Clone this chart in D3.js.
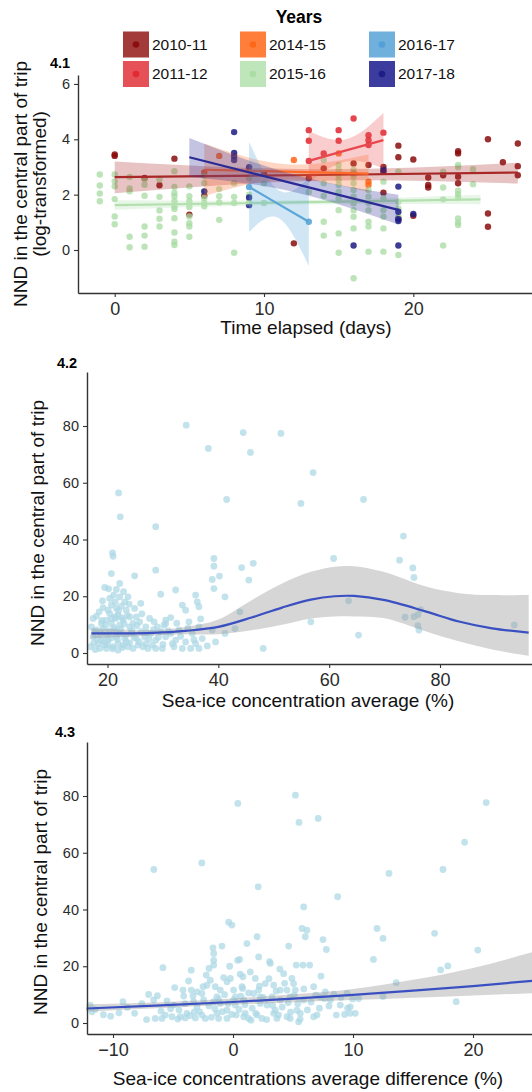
<!DOCTYPE html>
<html><head><meta charset="utf-8">
<script src="https://cdn.jsdelivr.net/npm/d3@7"></script>
<style>
html,body{margin:0;padding:0;background:#fff;}
svg text{font-family:"Liberation Sans",Arial,sans-serif;}
</style></head>
<body>
<svg id="chart" width="532" height="1092"></svg>
<script>
// ---------------- DATA ----------------
const years = ["2010-11","2011-12","2014-15","2015-16","2016-17","2017-18"];
const pointColors = ["#8B0A0A","#E0262E","#FF6414","#A6DBA0","#4F9FD6","#1B1B84"];
const lineColors  = ["#A82828","#E8474E","#FF6A2A","#B3E0AE","#5AA6D8","#2A2A96"];
const keyColors   = ["#A33B3B","#E65157","#FF7F3A","#BFE5BA","#6FB0DD","#3B3C9E"];

const pts_2010_11 = [[0,3.45],[0,3.4],[2,2.6],[3,2.34],[4,3.3],[5,1.28],[6,1.96],[10,2.75],[12,0.24],[13,2.59],[14,2.95],[16,3.13],[16,2.77],[17,3.07],[18,3.0],[18,2.83],[18,2.07],[19,3.77],[19,3.35],[19,1.14],[20,3.27],[20,1.24],[21,2.62],[21,2.35],[21,2.26],[22,2.7],[23,3.57],[23,3.49],[23,2.65],[23,2.41],[25,4.0],[25,1.32],[25,0.84],[26,3.17],[27,3.85],[27,3.03],[27,2.7]];
const pts_2011_12 = [[13,4.33],[13,3.95],[13,3.22],[14,3.49],[15,4.33],[15,3.95],[16,4.75],[17,4.15],[17,3.97],[17,3.79],[18,4.24]];
const pts_2014_15 = [[6,2.8],[7,3.4],[12,3.25],[15,3.49],[17,2.47],[17,2.35]];
const pts_2015_16 = [[-1,2.73],[-1,2.33],[-1,2.04],[-1,1.76],
 [0,2.73],[0,2.48],[0,2.3],[0,1.84],[0,1.21],[0,0.93],
 [1,2.64],[1,2.22],[1,2.12],[1,0.48],[1,0.1],
 [2,2.55],[2,2.36],[2,1.96],[2,0.85],[2,0.52],[2,0.12],
 [3,2.55],[3,1.92],[3,1.43],[3,1.13],[3,0.85],
 [4,2.85],[4,2.28],[4,2.06],[4,1.94],[4,1.76],[4,1.58],[4,1.48],[4,1.15],[4,0.63],[4,0.3],[4,0.18],
 [5,2.3],[5,1.94],[5,1.76],[5,1.55],[5,1.21],[5,0.97],[5,0.85],[5,0.48],
 [6,2.67],[6,2.42],[6,2.12],[6,1.88],[6,1.7],[6,1.58],
 [7,2.2],[7,1.94],[7,1.72],[7,1.09],
 [8,2.41],[8,1.92],[8,1.7],[8,-0.1],
 [9,2.59],[9,2.0],[9,1.74],
 [10,2.4],[10,1.7],
 [13,2.1],
 [14,3.25],[14,2.41],[14,1.95],[14,1.02],[14,0.52],
 [15,3.07],[15,2.89],[15,2.71],[15,2.53],[15,2.35],[15,2.1],[15,1.87],[15,1.44],[15,0.6],[15,-0.1],
 [16,2.89],[16,2.65],[16,2.41],[16,2.17],[16,1.93],[16,1.69],[16,1.44],[16,1.2],[16,0.78],[16,-1.02],
 [17,2.17],[17,1.93],[17,1.69],[17,1.44],[17,1.02],[17,0.85],[17,-0.06],
 [18,2.47],[18,1.87],[18,1.44],[18,1.2],[18,0.78],[18,-0.06],
 [19,2.83],[19,1.74],[19,1.5],[19,1.2],[19,-0.18],
 [22,2.83],[22,2.26],[22,1.83],[22,0.16],
 [23,3.07],[23,2.99],[23,2.14],[23,2.02],[23,1.9],[23,1.14],[23,0.99],[23,0.9],
 [24,2.92],[24,2.38]];
const pts_2016_17 = [[9,2.28],[13,1.02]];
const pts_2017_18 = [[6,2.12],[8,4.26],[8,3.51],[8,3.39],[8,3.25],[9,2.99],[9,1.9],[9,1.62],[16,0.16],[18,2.89],[19,2.29],[19,1.38],[19,1.11],[19,1.05],[19,0.16],[20,1.3]];

// fitted line + confidence band: [day, fit, lower, upper]
const fit_2010_11 = [[0,2.63,2.05,3.2],[13.5,2.71,2.5,2.92],[27,2.8,2.4,3.15]];
const fit_2011_12 = [[13,3.22,2.45,4.3],[15.5,3.6,3.2,4.0],[18,3.97,2.95,4.95]];
const fit_2014_15 = [[6,2.9,1.95,3.85],[11.5,2.83,2.55,3.1],[17,2.76,2.1,3.45]];
const fit_2015_16 = [[0,1.62,1.45,1.8],[12,1.72,1.64,1.8],[24.5,1.83,1.65,2.0]];
const fit_2016_17 = [[9,2.28,0.65,3.9],[11,1.65,1.15,2.15],[13,1.02,-0.58,2.6]];
const fit_2017_18 = [[5,3.35,2.65,4.05],[12,2.4,2.1,2.72],[19,1.45,0.92,2.0]];

// Panel 4.2: sea-ice concentration average (%) vs NND
const iceAvgX = [20.9,21.0,20.7,24.9,28.7,19.5,22.2,21.6,22.9,21.1,20.4,19.1,20.7,21.6,22.5,18.5,20.4,21.9,23.4,24.9,25.2,17.1,18.0,19.2,20.7,22.2,24.0,25.8,27.6,29.0,30.5,17.4,18.9,19.8,21.6,23.4,25.2,26.9,28.7,30.5,32.3,16.9,18.6,21.0,22.8,24.6,26.4,28.1,29.9,31.7,33.5,35.0,36.5,32.3,29.6,33.5,35.9,36.2,36.5,34.1,31.4,30.2,32.9,35.3,37.1,38.9,39.5,41.2,39.2,39.2,40.2,38.9,39.2,41.2,44.2,46.3,45.5,43.9,43.0,48.1,17.7,18.3,19.5,20.1,21.3,21.9,22.2,22.8,19.8,21.3,24.0,24.3,26.1,26.7,27.8,29.6,31.4,32.0,27.3,23.7,18.9,20.1,23.1,23.7,30.5,19.8,21.9,25.5,28.7,34.1,35.9,34.7,36.5,22.2,20.7,17.4,24.6,26.9,28.4,23.1,
 17.5,17.8,18.2,18.7,19.0,19.4,19.6,20.0,20.3,20.6,20.9,21.2,21.5,21.8,22.0,22.4,22.7,23.0,23.3,23.6,24.0,24.4,24.8,25.3,25.7,26.2,27.0,27.5,28.3,29.2,30.0,31.0,32.5,33.2,34.5,35.6,36.8,38.0,20.2,21.4,22.6,19.2,18.0,23.9,26.0,
 34.2,38.2,44.5,45.8,51.3,57.1,22.0,22.3,41.5,54.9,66.2,28.7,73.4,60.8,72.7,75.1,75.3,63.5,73.7,75.3,76.0,76.5,76.0,76.2,56.7,65.3,93.4];
const iceAvgY = [35.3,34.1,28.0,27.2,29.2,23.1,24.5,22.4,21.6,20.4,19.2,18.4,16.9,15.7,16.5,14.5,13.9,13.3,15.1,15.7,12.7,9.2,8.1,8.6,10.4,9.8,9.2,11.0,12.2,9.2,10.4,5.7,4.5,6.3,5.7,3.9,5.1,3.3,4.5,5.7,4.5,2.2,1.6,2.2,2.8,1.6,2.2,2.8,1.6,3.3,1.6,1.6,1.6,22.2,20.7,16.9,20.4,18.0,16.3,15.1,12.5,9.8,8.1,6.9,5.1,8.1,3.9,6.9,33.3,30.6,27.1,25.9,22.7,19.8,30.1,31.6,25.7,14.5,8.6,1.6,7.5,3.3,2.8,4.5,8.1,3.3,6.9,11.6,11.6,12.7,12.7,6.9,7.5,5.7,6.9,7.5,6.9,2.2,1.6,2.2,10.4,15.1,18.0,19.8,11.6,1.6,1.0,2.8,1.6,3.9,3.3,11.0,9.2,19.8,12.2,12.2,10.4,9.2,11.0,5.1,
 3.5,1.2,5.0,6.9,11.5,4.0,9.8,3.0,7.8,5.2,1.5,8.9,12.2,4.8,14.8,8.4,1.9,10.3,6.1,13.2,3.6,8.0,5.5,9.6,4.0,13.8,7.2,4.9,8.2,5.6,3.0,7.8,10.5,5.9,8.8,4.7,12.0,2.5,22.6,18.0,12.5,16.0,13.0,17.2,17.5,
 80.3,72.1,77.7,70.7,77.4,63.6,56.4,48.0,54.1,52.7,54.1,44.5,41.2,33.3,32.7,30.0,26.6,18.4,12.6,12.8,13.5,15.3,9.6,8.1,11.0,6.3,9.9];
// loess fit: x, fit, lower, upper
const smoothAvgX  = [17.1,22,28.2,34.1,40,46,51.5,56.7,61,64.5,69.8,77.5,83.4,89.4,96];
const smoothAvgY  = [6.9,6.9,7.1,7.8,9.2,12.5,16.0,18.8,20.0,20.1,18.7,14.6,11.1,8.7,7.2];
const smoothAvgLo = [5.1,5.6,6.2,6.6,6.6,8.0,10.0,12.2,12.9,12.9,12.3,7.6,4.1,1.2,-1.0];
const smoothAvgHi = [8.6,8.3,8.1,9.2,11.8,18.6,24.5,28.6,30.4,30.6,28.6,23.4,21.1,20.4,20.4];

// Panel 4.3: sea-ice concentrations average difference (%) vs NND
const iceDiffX = [-11.9,-11.75,-10.2,-9.17,-8.2,-7.03,-6.48,-5.84,-5.92,-4.86,-5.09,-4.17,-4.11,-3.98,-3.48,-3.48,-3.34,-3.28,-3.23,-3.14,-2.59,-2.31,-2.23,-2.17,-1.89,-1.67,-1.61,-1.61,-1.61,-1.48,-1.34,-1.34,-1.2,-1.06,-0.92,-0.78,-0.5,-0.5,-0.36,-0.28,-0.22,-0.09,0.05,0.19,0.27,0.39,0.55,0.66,0.75,0.83,1.02,1.16,1.3,1.44,1.5,1.86,2.0,2.14,2.14,2.27,2.41,2.69,3.05,3.11,3.25,3.39,3.52,3.66,3.94,4.22,4.5,4.64,4.77,4.91,5.05,5.19,5.27,5.33,5.47,5.75,5.83,5.89,6.02,6.16,6.39,6.72,7.0,7.33,7.5,7.69,7.78,8.11,8.61,8.72,9.5,9.77,10.19,10.47,12.0,
 -6.61,-4.95,-3.0,-1.06,0.89,2.83,4.77,5.89,7.27,8.94,-3.84,-2.59,-0.5,0.89,2.0,3.39,4.5,5.61,6.72,-5.64,-4.39,-2.45,-1.61,0.05,1.72,2.27,3.94,
 -11.5,-10.8,-9.5,-8.8,-7.6,-7.2,-6.0,-5.5,-5.2,-4.6,-4.5,-4.0,-3.7,-3.6,-3.0,-2.8,-2.5,-2.0,-1.8,-1.5,-1.2,-0.9,-0.7,-0.4,-0.1,0.2,0.5,0.8,1.0,1.3,1.6,1.9,2.2,2.5,2.8,3.0,3.3,3.6,3.8,4.1,4.3,4.6,4.8,5.1,5.4,5.6,5.9,6.2,6.5,6.9,7.2,7.6,8.0,8.4,9.0,9.3,-6.3,-2.0,0.6,3.9,
 -6.6,-2.6,0.4,2.1,5.2,5.5,7.1,13.0,17.5,19.3,21.1,12.5,11.7,16.8,20.4,17.3,17.9,13.6,12.5,18.6,9.97,9.75,9.55];
const iceDiffY = [6.3,3.95,2.4,7.5,3.4,10.05,1.6,19.5,1.6,12.5,2.2,11.6,9.5,1.8,18.6,11.6,9.5,7.5,3.95,1.8,10.4,1.6,16.9,13.3,15.1,26.5,24.5,22.1,20.4,12.8,9.2,3.4,1.6,11.6,27.1,16.0,14.5,1.6,35.5,20.0,15.7,34.5,11.6,6.3,2.8,22.1,22.4,9.5,12.8,16.3,3.4,28.0,1.6,18.0,1.0,15.7,30.4,23.3,11.6,6.9,1.6,13.9,21.6,21.0,9.2,13.3,4.5,1.6,8.1,17.4,11.6,27.1,1.6,15.7,13.9,11.6,20.4,4.5,0.4,33.3,20.4,40.9,30.4,32.7,20.4,12.8,2.8,16.5,29.4,11.0,25.9,8.1,2.8,44.5,10.4,5.7,3.4,8.6,33.3,
 8.1,6.3,5.7,6.9,8.1,6.3,9.2,8.1,9.2,6.3,3.4,2.8,4.5,2.2,2.8,3.4,2.2,3.4,2.2,2.8,2.2,8.1,7.5,8.1,10.4,9.2,11.6,
 4.8,2.9,3.6,5.5,6.8,1.2,4.2,7.8,5.0,1.4,4.6,6.8,14.8,2.6,11.0,4.0,12.8,6.0,2.0,5.0,8.4,4.0,10.0,6.8,3.0,9.2,4.8,12.2,6.4,10.6,5.2,3.4,13.0,9.0,1.2,15.6,6.2,11.2,2.8,5.6,14.0,7.2,3.8,9.8,6.8,1.4,12.0,4.6,7.4,9.8,5.2,8.6,6.0,10.2,9.0,3.0,9.6,19.2,17.2,19.0,
 54.1,56.4,77.4,48.0,80.3,70.7,72.1,52.7,54.1,63.7,77.7,29.8,22.4,31.6,25.7,18.7,20.1,14.2,9.3,7.5,8.5,3.4,5.2];
const smoothDiffX  = [-12.2,-6,0,5,10,15,20,25];
const smoothDiffY  = [5.1,6.2,7.4,8.6,9.9,11.4,13.0,14.9];
const smoothDiffLo = [4.0,5.3,6.4,7.3,8.1,8.9,9.7,10.5];
const smoothDiffHi = [6.6,7.3,8.6,10.1,12.0,15.2,19.4,25.0];

const ticks1X = [0,10,20], ticks1Y = [0,2,4,6];
const ticks2X = [20,40,60,80], ticks2Y = [0,20,40,60,80];
const ticks3X = [-10,0,10,20], ticks3Y = [0,20,40,60,80];

// ---------------- DRAW ----------------
const svg = d3.select("#chart");
const FONT = '"Liberation Sans",Arial,sans-serif';

function extendScale(s, p0, p1){ // keep anchor mapping, extend to panel edges
  const d0 = s.invert(p0), d1 = s.invert(p1);
  return s.copy().domain([d0,d1]).range([p0,p1]);
}
function drawAxes(x, y, xt, yt, axisY, axisX){
  const gx = svg.append("g").attr("transform",`translate(0,${axisY})`)
    .call(d3.axisBottom(x).tickValues(xt).tickSize(4).tickSizeOuter(0).tickPadding(5));
  const gy = svg.append("g").attr("transform",`translate(${axisX},0)`)
    .call(d3.axisLeft(y).tickValues(yt).tickSize(4).tickSizeOuter(0).tickPadding(4));
  [gx,gy].forEach(g=>{
    g.select(".domain").attr("stroke","#333").attr("stroke-width",1.4);
    g.selectAll(".tick line").attr("stroke","#333").attr("stroke-width",1.1);
    g.selectAll("text").attr("fill","#2b2b2b").attr("font-family",FONT);
  });
  gx.selectAll("text").attr("font-size",18);
  gy.selectAll("text").attr("font-size",14.5);
}
function yTitle(lines, cy, xs){
  lines.forEach((t,i)=>{
    svg.append("text").attr("transform",`translate(${xs[i]},${cy}) rotate(-90)`)
      .attr("text-anchor","middle").attr("font-size",19).attr("fill","#111").text(t);
  });
}
function xTitle(t, cx, by){
  svg.append("text").attr("x",cx).attr("y",by).attr("text-anchor","middle")
    .attr("font-size",19).attr("fill","#111").text(t);
}
function panelLabel(t, x, y){
  svg.append("text").attr("x",x).attr("y",y).attr("font-size",14.5).attr("font-weight","bold")
    .attr("fill","#000").text(t);
}

// ----- Panel 4.1 -----
const x1 = extendScale(d3.scaleLinear().domain([0,20]).range([114.7,413.3]), 78, 545);
const y1 = extendScale(d3.scaleLinear().domain([0,4]).range([250,139.3]), 293, 75);
const allPts = [pts_2010_11,pts_2011_12,pts_2014_15,pts_2015_16,pts_2016_17,pts_2017_18];
const allFits = [fit_2010_11,fit_2011_12,fit_2014_15,fit_2015_16,fit_2016_17,fit_2017_18];

const g1 = svg.append("g");
allPts.forEach((pts,i)=>{
  g1.append("g").selectAll("circle").data(pts).join("circle")
    .attr("cx",d=>x1(d[0])).attr("cy",d=>y1(d[1])).attr("r",3.2)
    .attr("fill",pointColors[i]).attr("fill-opacity",i===3?0.75:0.85);
});
allFits.forEach((f,i)=>{
  const area = d3.area().x(d=>x1(d[0])).y0(d=>y1(d[2])).y1(d=>y1(d[3])).curve(d3.curveNatural);
  g1.append("path").attr("d",area(f)).attr("fill",lineColors[i]).attr("fill-opacity",i===3?0.3:0.28);
  const line = d3.line().x(d=>x1(d[0])).y(d=>y1(d[1]));
  g1.append("path").attr("d",line(f)).attr("fill","none").attr("stroke",lineColors[i]).attr("stroke-width",2.2);
});
drawAxes(x1,y1,ticks1X,ticks1Y,293,78);
yTitle(["NND in the central part of trip","(log-transformed)"],184,[27,46]);
xTitle("Time elapsed (days)",306,334);
panelLabel("4.1",50,68);

// legend
svg.append("text").attr("x",299).attr("y",23).attr("text-anchor","middle").attr("font-size",17.5)
  .attr("font-weight","bold").attr("fill","#000").text("Years");
const keyX = [123,240,369], keyY = [31.5,61];
years.forEach((yr,i)=>{
  const c = Math.floor(i/2), r = i%2;
  const kx = keyX[c], ky = keyY[r];
  svg.append("rect").attr("x",kx).attr("y",ky).attr("width",26).attr("height",26).attr("fill",keyColors[i]);
  svg.append("circle").attr("cx",kx+13).attr("cy",ky+13).attr("r",3.3).attr("fill",pointColors[i]).attr("fill-opacity",0.9);
  svg.append("text").attr("x",kx+29).attr("y",ky+13).attr("dy","0.35em").attr("font-size",15.5)
    .attr("fill","#111").text(yr);
});

// ----- Panel 4.2 -----
const x2 = extendScale(d3.scaleLinear().domain([20,80]).range([107.5,440]), 87, 545);
const y2 = extendScale(d3.scaleLinear().domain([0,80]).range([653,426]), 664, 372);
const g2 = svg.append("g");
g2.selectAll("circle").data(d3.range(iceAvgX.length)).join("circle")
  .attr("cx",i=>x2(iceAvgX[i])).attr("cy",i=>y2(iceAvgY[i])).attr("r",3.4)
  .attr("fill","#ADD8E6").attr("fill-opacity",0.75);
const sm2 = d3.range(smoothAvgX.length);
g2.append("path").attr("d",d3.area().x(i=>x2(smoothAvgX[i])).y0(i=>y2(smoothAvgLo[i])).y1(i=>y2(smoothAvgHi[i])).curve(d3.curveCatmullRom)(sm2))
  .attr("fill","#999").attr("fill-opacity",0.4);
g2.append("path").attr("d",d3.line().x(i=>x2(smoothAvgX[i])).y(i=>y2(smoothAvgY[i])).curve(d3.curveCatmullRom)(sm2))
  .attr("fill","none").attr("stroke","#3A50C2").attr("stroke-width",2.2);
drawAxes(x2,y2,ticks2X,ticks2Y,664,87);
yTitle(["NND in the central part of trip"],523,[44]);
xTitle("Sea-ice concentration average (%)",308,707);
panelLabel("4.2",57,368);

// ----- Panel 4.3 -----
const x3 = extendScale(d3.scaleLinear().domain([0,20]).range([233,473]), 87, 545);
const y3 = extendScale(d3.scaleLinear().domain([0,80]).range([1023,796]), 1034, 742);
const g3 = svg.append("g");
g3.selectAll("circle").data(d3.range(iceDiffX.length)).join("circle")
  .attr("cx",i=>x3(iceDiffX[i])).attr("cy",i=>y3(iceDiffY[i])).attr("r",3.4)
  .attr("fill","#ADD8E6").attr("fill-opacity",0.75);
const sm3 = d3.range(smoothDiffX.length);
g3.append("path").attr("d",d3.area().x(i=>x3(smoothDiffX[i])).y0(i=>y3(smoothDiffLo[i])).y1(i=>y3(smoothDiffHi[i])).curve(d3.curveMonotoneX)(sm3))
  .attr("fill","#999").attr("fill-opacity",0.4);
g3.append("path").attr("d",d3.line().x(i=>x3(smoothDiffX[i])).y(i=>y3(smoothDiffY[i])).curve(d3.curveMonotoneX)(sm3))
  .attr("fill","none").attr("stroke","#3A50C2").attr("stroke-width",2.2);
drawAxes(x3,y3,ticks3X,ticks3Y,1034,87);
yTitle(["NND in the central part of trip"],892,[47]);
xTitle("Sea-ice concentrations average difference (%)",308,1085);
panelLabel("4.3",55,737);
</script>
</body></html>
